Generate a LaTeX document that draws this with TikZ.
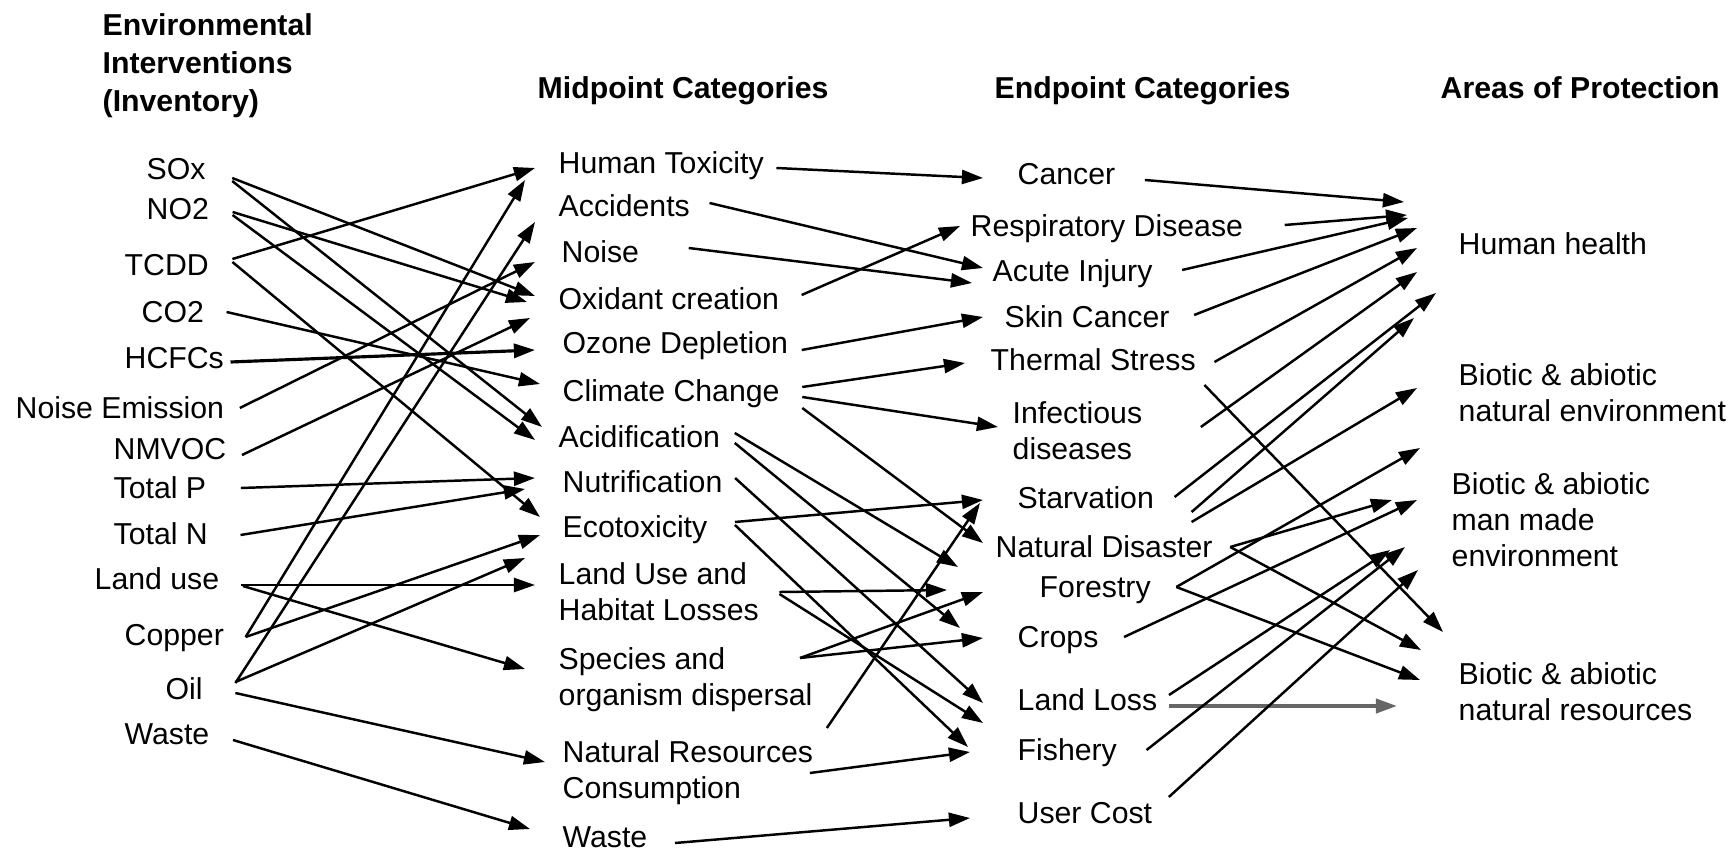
\documentclass[tikz,border=0pt]{standalone}
\usepackage{fontspec}
\setmainfont{Liberation Sans}
\usepackage{tikz}
\usetikzlibrary{arrows.meta}
\newcommand\itemfont{\fontsize{8.6}{10.24}\selectfont}
\newcommand\headfont{\fontsize{8.6}{10.8}\selectfont\bfseries}

\begin{document}
\begin{tikzpicture}[x=0.01cm, y=-0.01cm,
    item/.style={font=\itemfont, inner sep=0pt, text height=5.92pt, text depth=0pt, anchor=west},
    block/.style={font=\itemfont, inner sep=0pt, align=left, anchor=north west},
    head/.style={font=\headfont, inner sep=0pt, text height=5.92pt, text depth=0pt, anchor=west},
    link/.style={-{Triangle[length=6pt, width=4pt]}, line width=0.7pt}]
    \useasboundingbox (0,0) rectangle (1734,849);

    % Spaltenköpfe
    \node[font=\headfont, inner sep=0pt, align=left, anchor=north west] (hinv) at (102,13) {Environmental\\Interventions\\(Inventory)};
    \node[head] (hmid) at (537,88) {Midpoint Categories};
    \node[head] (hend) at (994,88) {Endpoint Categories};
    \node[head] (haop) at (1440,88) {Areas of Protection};

    % Inventar
    \node[item] (sox) at (146,169) {SOx};
    \node[item] (no2) at (146,209) {NO2};
    \node[item] (tcdd) at (124,265) {TCDD};
    \node[item] (co2) at (141,312) {CO2};
    \node[item] (hcfc) at (124,358) {HCFCs};
    \node[item] (noiseem) at (15,408) {Noise Emission};
    \node[item] (nmvoc) at (113,449) {NMVOC};
    \node[item] (totp) at (113,488) {Total P};
    \node[item] (totn) at (113,534) {Total N};
    \node[item] (landuse) at (94,579) {Land use};
    \node[item] (copper) at (124,635) {Copper};
    \node[item] (oil) at (165,689) {Oil};
    \node[item] (waste) at (124,734) {Waste};

    % Midpoints
    \node[item] (humtox) at (558,163) {Human Toxicity};
    \node[item] (accid) at (558,206) {Accidents};
    \node[item] (noise) at (561,252) {Noise};
    \node[item] (oxid) at (558,299) {Oxidant creation};
    \node[item] (ozone) at (562,343) {Ozone Depletion};
    \node[item] (climate) at (562,391) {Climate Change};
    \node[item] (acid) at (558,437) {Acidification};
    \node[item] (nutri) at (562,482) {Nutrification};
    \node[item] (ecotox) at (562,527) {Ecotoxicity};
    \node[block] (habitat) at (558,562) {Land Use and\\Habitat Losses};
    \node[block] (species) at (558,647) {Species and\\organism dispersal};
    \node[block] (natres) at (562,740) {Natural Resources\\Consumption};
    \node[item] (wastemid) at (562,837) {Waste};

    % Endpoints
    \node[item] (cancer) at (1017,174) {Cancer};
    \node[item] (resp) at (970,226) {Respiratory Disease};
    \node[item] (acute) at (992,271) {Acute Injury};
    \node[item] (skin) at (1004,317) {Skin Cancer};
    \node[item] (thermal) at (990,360) {Thermal Stress};
    \node[block] (infect) at (1012,401) {Infectious\\diseases};
    \node[item] (starv) at (1017,498) {Starvation};
    \node[item] (disaster) at (995,547) {Natural Disaster};
    \node[item] (forestry) at (1039,587) {Forestry};
    \node[item] (crops) at (1017,637) {Crops};
    \node[item] (landloss) at (1017,700) {Land Loss};
    \node[item] (fishery) at (1017,750) {Fishery};
    \node[item] (usercost) at (1017,813) {User Cost};

    % Schutzgüter
    \node[item] (human) at (1458,244) {Human health};
    \node[block] (aopenv) at (1458,363) {Biotic \& abiotic\\natural environment};
    \node[block] (aopman) at (1451,472) {Biotic \& abiotic\\man made\\environment};
    \node[block] (aopres) at (1458,662) {Biotic \& abiotic\\natural resources};

    % Inventar -> Midpoint
    \draw[link] ([shift={(26,9)}]sox.east) -- ([shift={(-23,-3)}]oxid.west);
    \draw[link] ([shift={(26,12)}]sox.east) -- ([shift={(-16,-10)}]acid.west);
    \draw[link] ([shift={(23,3)}]no2.east) -- ([shift={(-31,3)}]oxid.west);
    \draw[link] ([shift={(23,6)}]no2.east) -- ([shift={(-23,3)}]acid.west);
    \draw[link] ([shift={(23,-6)}]tcdd.east) -- ([shift={(-23,5)}]humtox.west);
    \draw[link] ([shift={(23,-3)}]tcdd.east) -- ([shift={(-22,-10)}]ecotox.west);
    \draw[link] ([shift={(22,0)}]co2.east) -- ([shift={(-22,-7)}]climate.west);
    \draw[link, line width=0.9pt] ([shift={(6,4)}]hcfc.east) -- ([shift={(-27,7)}]ozone.west);
    \draw[link] ([shift={(15,0)}]noiseem.east) -- ([shift={(-26,10)}]noise.west);
    \draw[link] ([shift={(15,6)}]nmvoc.east) -- ([shift={(-28,19)}]oxid.west);
    \draw[link] ([shift={(34,0)}]totp.east) -- ([shift={(-27,-4)}]nutri.west);
    \draw[link] ([shift={(32,1)}]totn.east) -- ([shift={(-37,7)}]nutri.west);
    \draw[link] ([shift={(21,6)}]landuse.east) -- ([shift={(-23,23)}]habitat.north west);
    \draw[link] ([shift={(23,7)}]landuse.east) -- ([shift={(-33,22)}]species.north west);
    \draw[link] ([shift={(21,2)}]copper.east) -- ([shift={(-33,17)}]humtox.west);
    \draw[link] ([shift={(21,2)}]copper.east) -- ([shift={(-22,8)}]ecotox.west);
    \draw[link] ([shift={(32,-6)}]oil.east) -- ([shift={(-23,16)}]accid.west);
    \draw[link] ([shift={(32,-7)}]oil.east) -- ([shift={(-33,-4)}]habitat.north west);
    \draw[link] ([shift={(32,4)}]oil.east) -- ([shift={(-17,22)}]natres.north west);
    \draw[link] ([shift={(23,6)}]waste.east) -- ([shift={(-32,-8)}]wastemid.west);

    % Midpoint -> Endpoint
    \draw[link] ([shift={(12,5)}]humtox.east) -- ([shift={(-34,4)}]cancer.west);
    \draw[link] ([shift={(19,-3)}]accid.east) -- ([shift={(-9,-3)}]acute.west);
    \draw[link] ([shift={(49,-4)}]noise.east) -- ([shift={(-20,12)}]acute.west);
    \draw[link] ([shift={(22,-4)}]oxid.east) -- ([shift={(-10,0)}]resp.west);
    \draw[link] ([shift={(13,7)}]ozone.east) -- ([shift={(-21,0)}]skin.west);
    \draw[link] ([shift={(22,-4)}]climate.east) -- ([shift={(-25,3)}]thermal.west);
    \draw[link] ([shift={(22,6)}]climate.east) -- ([shift={(-14,26)}]infect.north west);
    \draw[link] ([shift={(22,17)}]climate.east) -- ([shift={(-12,-4)}]disaster.west);
    \draw[link] ([shift={(14,-4)}]acid.east) -- ([shift={(-81,-20)}]forestry.west);
    \draw[link] ([shift={(14,6)}]acid.east) -- ([shift={(-57,-9)}]crops.west);
    \draw[link] ([shift={(12,-4)}]nutri.east) -- ([shift={(-34,3)}]landloss.west);
    \draw[link] ([shift={(27,-5)}]ecotox.east) -- ([shift={(-34,2)}]starv.west);
    \draw[link] ([shift={(27,-2)}]ecotox.east) -- ([shift={(-49,-3)}]fishery.west);
    \draw[link] ([shift={(20,30)}]habitat.north east) -- ([shift={(-92,3)}]forestry.west);
    \draw[link] ([shift={(20,32)}]habitat.north east) -- ([shift={(-34,23)}]landloss.west);
    \draw[link] ([shift={(242,11)}]species.north west) -- ([shift={(-56,5)}]forestry.west);
    \draw[link] ([shift={(242,11)}]species.north west) -- ([shift={(-34,1)}]crops.west);
    \draw[link] ([shift={(13,-12)}]natres.north east) -- ([shift={(-37,5)}]starv.west);
    \draw[link] ([shift={(-4,33)}]natres.north east) -- ([shift={(-47,2)}]fishery.west);
    \draw[link] ([shift={(27,6)}]wastemid.east) -- ([shift={(-47,5)}]usercost.west);

    % Endpoint -> Schutzgut
    \draw[link] ([shift={(29,6)}]cancer.east) -- ([shift={(-54,-42)}]human.west);
    \draw[link] ([shift={(41,-1)}]resp.east) -- ([shift={(-51,-29)}]human.west);
    \draw[link] ([shift={(29,-1)}]acute.east) -- ([shift={(-50,-26)}]human.west);
    \draw[link] ([shift={(24,-2)}]skin.east) -- ([shift={(-41,-16)}]human.west);
    \draw[link] ([shift={(18,2)}]thermal.east) -- ([shift={(-41,4)}]human.west);
    \draw[link] ([shift={(8,25)}]thermal.east) -- ([shift={(-15,-30)}]aopres.north west);
    \draw[link] ([shift={(58,26)}]infect.north east) -- ([shift={(-41,28)}]human.west);
    \draw[link] ([shift={(20,-1)}]starv.east) -- ([shift={(-22,49)}]human.west);
    \draw[link] ([shift={(37,14)}]starv.east) -- ([shift={(-44,74)}]human.west);
    \draw[link] ([shift={(37,24)}]starv.east) -- ([shift={(-41,25)}]aopenv.north west);
    \draw[link] ([shift={(17,0)}]disaster.east) -- ([shift={(-59,28)}]aopman.north west);
    \draw[link] ([shift={(17,0)}]disaster.east) -- ([shift={(-37,-12)}]aopres.north west);
    \draw[link] ([shift={(25,0)}]forestry.east) -- ([shift={(-38,85)}]aopenv.north west);
    \draw[link] ([shift={(25,0)}]forestry.east) -- ([shift={(-38,18)}]aopres.north west);
    \draw[link] ([shift={(25,0)}]crops.east) -- ([shift={(-34,28)}]aopman.north west);
    \draw[link] ([shift={(11,-5)}]landloss.east) -- ([shift={(-61,78)}]aopman.north west);
    \draw[link, black!60, line width=1.1pt] ([shift={(11,6)}]landloss.east) -- ([shift={(-61,44)}]aopres.north west);
    \draw[link] ([shift={(29,0)}]fishery.east) -- ([shift={(-46,75)}]aopman.north west);
    \draw[link] ([shift={(16,-16)}]usercost.east) -- ([shift={(-33,98)}]aopman.north west);
\end{tikzpicture}
\end{document}
